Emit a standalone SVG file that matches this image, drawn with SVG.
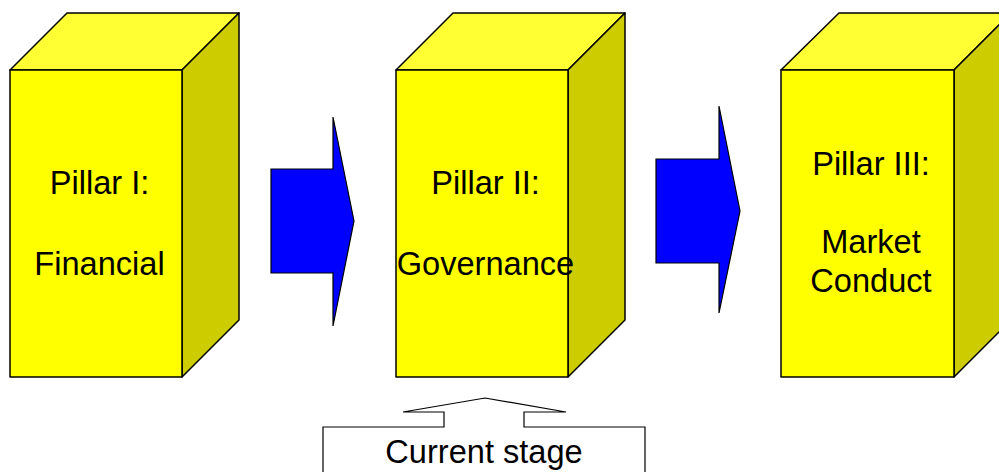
<svg xmlns="http://www.w3.org/2000/svg" width="999" height="472" viewBox="0 0 999 472">
<style>
.front{fill:#FFFF00;stroke:#000;stroke-width:1.5;stroke-linejoin:round}
.top{fill:#FFFF33;stroke:#000;stroke-width:1.5;stroke-linejoin:round}
.side{fill:#CCCC00;stroke:#000;stroke-width:1.5;stroke-linejoin:round}
.arrow{fill:#0000FF;stroke:#000;stroke-width:1.2;stroke-linejoin:miter}
.callout{fill:#FFFFFF;stroke:#000;stroke-width:1.2}
text{font-family:"Liberation Sans",Arial,sans-serif;font-size:32.6px;fill:#000;text-anchor:middle}
</style>
<rect width="999" height="472" fill="#FFFFFF"/>
<g id="pillar1">
<polygon class="top" points="10,70 67,13 239,13 182,70"/>
<polygon class="side" points="182,70 239,13 239,320 182,377"/>
<rect class="front" x="10" y="70" width="172" height="307"/>
<text x="99.5" y="194">Pillar I:</text>
<text x="99.5" y="275">Financial</text>
</g>
<g id="pillar2">
<polygon class="top" points="396,70 453,13 625,13 568,70"/>
<polygon class="side" points="568,70 625,13 625,320 568,377"/>
<rect class="front" x="396" y="70" width="172" height="307"/>
<text x="485.5" y="194">Pillar II:</text>
<text x="485.5" y="275">Governance</text>
</g>
<g id="pillar3">
<polygon class="top" points="781,70 839,13 1011,13 954,70"/>
<polygon class="side" points="954,70 1011,13 1011,320 954,377"/>
<rect class="front" x="781" y="70" width="173" height="307"/>
<text x="871" y="175">Pillar III:</text>
<text x="871" y="253">Market</text>
<text x="871" y="292">Conduct</text>
</g>
<g id="connectors">
<polygon class="arrow" points="271,169 333,169 333,117 354,221 333,326 333,273 271,273"/>
<polygon class="arrow" points="656,159 719,159 719,106 740,211 719,313 719,263 656,263"/>
</g>
<g id="current-stage">
<polygon class="callout" points="323,480 323,427 444,427 444,412 403,412 485,398 566,412 524,412 524,427 645,427 645,480"/>
<text x="484" y="463">Current stage</text>
</g>
</svg>
